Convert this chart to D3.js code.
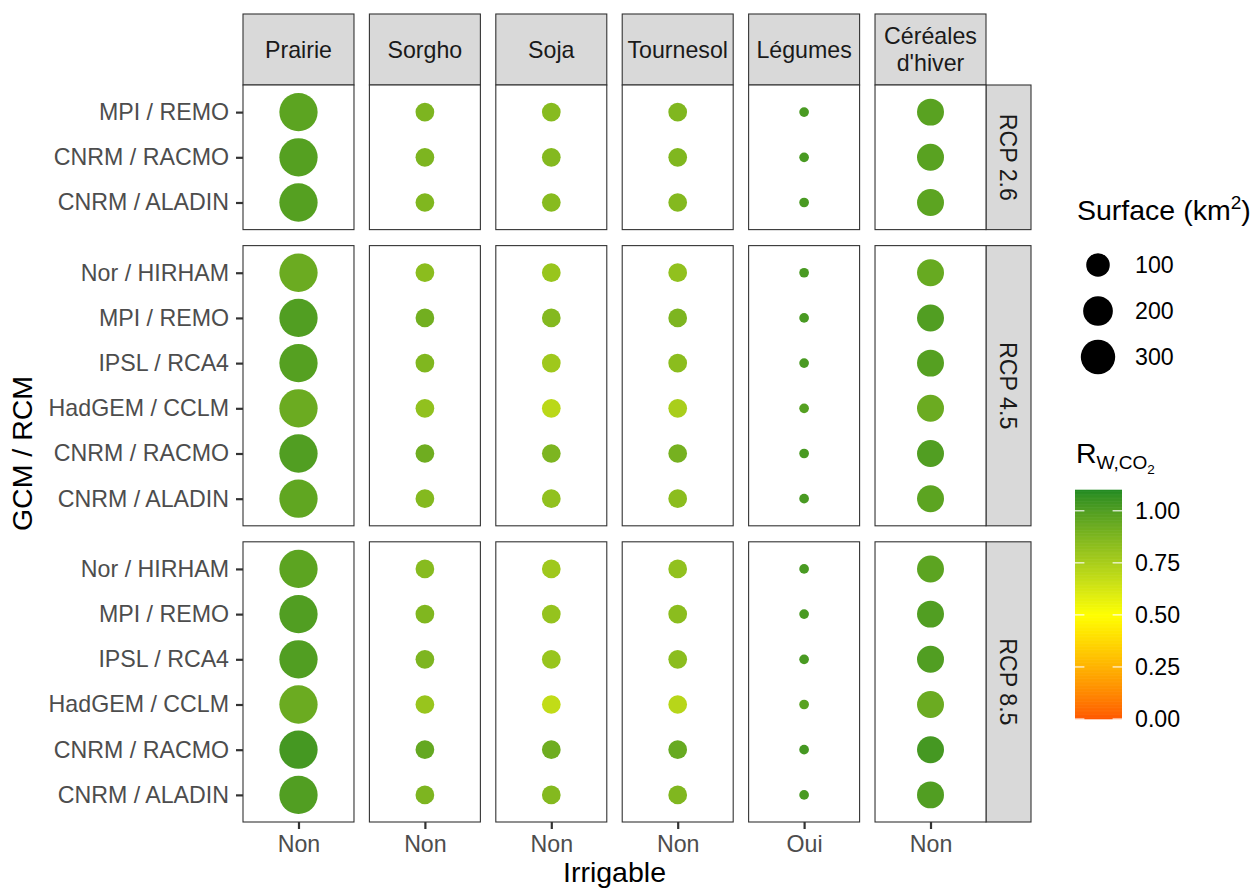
<!DOCTYPE html>
<html><head><meta charset="utf-8">
<script src="https://cdn.jsdelivr.net/npm/d3@7"></script>
<style>body{margin:0;background:#fff}svg{display:block;font-family:"Liberation Sans",Arial,sans-serif}</style>
</head><body><svg id="c" width="1255" height="890"></svg>
<script>
// ---------- data ----------
const crops = ["Prairie","Sorgho","Soja","Tournesol","Légumes","Céréales\nd'hiver"];
const irrigable = ["Non","Non","Non","Non","Oui","Non"];
const surface = [400, 47, 47, 47, 8, 151];
const scenarios = ["RCP 2.6","RCP 4.5","RCP 8.5"];
const models26 = ["MPI / REMO","CNRM / RACMO","CNRM / ALADIN"];
const models45 = ["Nor / HIRHAM","MPI / REMO","IPSL / RCA4","HadGEM / CCLM","CNRM / RACMO","CNRM / ALADIN"];
const models85 = ["Nor / HIRHAM","MPI / REMO","IPSL / RCA4","HadGEM / CCLM","CNRM / RACMO","CNRM / ALADIN"];
// R_W,CO2 values: [crop][model] in display order (top to bottom)
const r26 = [
  [0.97,0.99,0.99],
  [0.88,0.88,0.87],
  [0.85,0.86,0.85],
  [0.87,0.87,0.86],
  [1.02,1.02,1.02],
  [0.98,0.98,0.97]
];
const r45 = [
  [0.93,1.00,0.99,0.93,1.00,0.96],
  [0.84,0.91,0.87,0.82,0.92,0.86],
  [0.80,0.86,0.78,0.70,0.88,0.82],
  [0.82,0.88,0.84,0.75,0.90,0.84],
  [1.02,1.02,1.02,0.99,1.02,1.02],
  [0.94,1.00,0.99,0.93,1.00,0.97]
];
const r85 = [
  [0.97,1.00,1.00,0.93,1.03,1.00],
  [0.85,0.87,0.88,0.80,0.95,0.88],
  [0.78,0.81,0.80,0.68,0.92,0.86],
  [0.82,0.84,0.84,0.71,0.94,0.87],
  [1.02,1.02,1.02,0.98,1.03,1.02],
  [0.97,1.00,1.00,0.93,1.03,1.00]
];
const sizeBreaks = [100, 200, 300];
const colorBreaks = [0, 0.25, 0.5, 0.75, 1.0];
const colorLimits = [0, 1.1];

const rowModels = [models26, models45, models85];
const rowValues = [r26, r45, r85];

// ---------- layout ----------
const svg = d3.select("#c");
const L = 243, R = 986, T = 85, B = 822, gapY = 16;
const stripTop = 14, stripRightW = 45;
const smallFont = 23.2, titleFont = 28.5;

const xBand = d3.scaleBand().domain(crops).range([L, R]).paddingInner(0.122).paddingOuter(0);
const units = rowModels.map(m => m.length + 0.2);
const unitPx = (B - T - gapY * (rowModels.length - 1)) / d3.sum(units);
let yStart = T;
const rows = rowModels.map((m, i) => {
  const h = units[i] * unitPx;
  const r = {top: yStart, bottom: yStart + h, models: m};
  r.y = d3.scalePoint().domain(m).range([r.top, r.bottom]).padding(0.6);
  yStart += h + gapY;
  return r;
});

const color = d3.scaleLinear().domain([-0.1, 0.5, 1.1]).range(["red","yellow","forestgreen"]).interpolate(d3.interpolateLab).clamp(true);
const sizeT = d3.scaleLinear().domain([8, 400]).range([0, 1]);
const diam = d3.scaleLinear().domain([0, 1]).range([9.7, 38.3]);
const radius = v => diam(Math.sqrt(Math.max(0, sizeT(v)))) / 2;

const border = "#333333";

// column strips
crops.forEach(c => {
  const x0 = xBand(c), w = xBand.bandwidth();
  svg.append("rect").attr("x", x0).attr("y", stripTop).attr("width", w).attr("height", T - stripTop)
    .attr("fill", "#d9d9d9").attr("stroke", border).attr("stroke-width", 1.1);
  const lines = c.split("\n");
  const t = svg.append("text").attr("x", x0 + w / 2).attr("text-anchor", "middle")
    .attr("font-size", smallFont).attr("fill", "#1a1a1a");
  const cy = (stripTop + T) / 2;
  lines.forEach((ln, k) => {
    t.append("tspan").attr("x", x0 + w / 2)
      .attr("y", cy + (k - (lines.length - 1) / 2) * 27).attr("dy", "0.35em").text(ln);
  });
});

rows.forEach((row, ri) => {
  // right strip
  svg.append("rect").attr("x", R).attr("y", row.top).attr("width", stripRightW).attr("height", row.bottom - row.top)
    .attr("fill", "#d9d9d9").attr("stroke", border).attr("stroke-width", 1.1);
  const sx = R + stripRightW / 2, sy = (row.top + row.bottom) / 2;
  svg.append("text").attr("transform", `translate(${sx},${sy}) rotate(90)`).attr("text-anchor", "middle")
    .attr("dy", "0.35em").attr("font-size", smallFont).attr("fill", "#1a1a1a").text(scenarios[ri]);

  crops.forEach((c, ci) => {
    const x0 = xBand(c), w = xBand.bandwidth();
    svg.append("rect").attr("x", x0).attr("y", row.top).attr("width", w).attr("height", row.bottom - row.top)
      .attr("fill", "#fff");
    const xs = d3.scalePoint().domain([irrigable[ci]]).range([x0, x0 + w]).padding(0.5);
    const data = row.models.map((m, mi) => ({m, v: rowValues[ri][ci][mi]}));
    svg.append("g").selectAll("circle").data(data).join("circle")
      .attr("cx", xs(irrigable[ci])).attr("cy", d => row.y(d.m))
      .attr("r", radius(surface[ci])).attr("fill", d => color(d.v));
    svg.append("rect").attr("x", x0).attr("y", row.top).attr("width", w).attr("height", row.bottom - row.top)
      .attr("fill", "none").attr("stroke", border).attr("stroke-width", 1.1);
    // x axis on last row
    if (ri === rows.length - 1) {
      const ax = svg.append("g").attr("transform", `translate(0,${row.bottom})`)
        .call(d3.axisBottom(xs).tickSizeOuter(0).tickSizeInner(7).tickPadding(7));
      ax.select(".domain").remove();
      ax.selectAll(".tick line").attr("stroke", border).attr("stroke-width", 2.2);
      ax.selectAll(".tick text").attr("font-size", smallFont).attr("fill", "#4d4d4d")
        .attr("font-family", "Liberation Sans, Arial, sans-serif");
    }
  });
  // y axis
  const ay = svg.append("g").attr("transform", `translate(${L},0)`)
    .call(d3.axisLeft(row.y).tickSizeOuter(0).tickSizeInner(7).tickPadding(7));
  ay.select(".domain").remove();
  ay.selectAll(".tick line").attr("stroke", border).attr("stroke-width", 2.2);
  ay.selectAll(".tick text").attr("font-size", smallFont).attr("fill", "#4d4d4d")
    .attr("font-family", "Liberation Sans, Arial, sans-serif");
});

// axis titles
svg.append("text").attr("x", (L + R) / 2).attr("y", 882).attr("text-anchor", "middle")
  .attr("font-size", titleFont).attr("fill", "#000").text("Irrigable");
svg.append("text").attr("transform", `translate(22,${(T + B) / 2}) rotate(-90)`).attr("text-anchor", "middle")
  .attr("dy", "0.35em").attr("font-size", titleFont).attr("fill", "#000").text("GCM / RCM");

// size legend
const lg = svg.append("g");
const st = lg.append("text").attr("x", 1077).attr("y", 220).attr("font-size", titleFont).attr("fill", "#000");
st.append("tspan").text("Surface (km");
st.append("tspan").attr("font-size", 19).attr("dy", -11).text("2");
st.append("tspan").attr("dy", 11).text(")");
const legY = d3.scalePoint().domain(sizeBreaks).range([265, 357]);
sizeBreaks.forEach(b => {
  lg.append("circle").attr("cx", 1098).attr("cy", legY(b)).attr("r", radius(b)).attr("fill", "#000");
  lg.append("text").attr("x", 1135).attr("y", legY(b)).attr("dy", "0.35em").attr("font-size", smallFont)
    .attr("fill", "#000").text(b);
});

// color legend
const ct = lg.append("text").attr("x", 1076).attr("y", 463).attr("font-size", titleFont).attr("fill", "#000");
ct.append("tspan").text("R");
ct.append("tspan").attr("font-size", 19).attr("dy", 6).text("W,CO");
ct.append("tspan").attr("font-size", 13.5).attr("dy", 5).text("2");
const cbX = 1075, cbW = 47, cbTop = 490, cbBot = 719;
const cy = d3.scaleLinear().domain(colorLimits).range([cbBot, cbTop]);
const bins = d3.range(0, 300).map(i => colorLimits[0] + (colorLimits[1] - colorLimits[0]) * i / 300);
const binH = (cbBot - cbTop) / 300;
lg.append("g").selectAll("rect").data(bins).join("rect")
  .attr("x", cbX).attr("width", cbW).attr("y", d => cy(d) - binH - 0.3).attr("height", binH + 0.6)
  .attr("fill", d => color(d + (colorLimits[1] - colorLimits[0]) / 600));
colorBreaks.forEach(b => {
  lg.append("line").attr("x1", cbX).attr("x2", cbX + 9.4).attr("y1", cy(b)).attr("y2", cy(b))
    .attr("stroke", "#fff").attr("stroke-width", 1.1);
  lg.append("line").attr("x1", cbX + cbW - 9.4).attr("x2", cbX + cbW).attr("y1", cy(b)).attr("y2", cy(b))
    .attr("stroke", "#fff").attr("stroke-width", 1.1);
  lg.append("text").attr("x", 1135).attr("y", cy(b)).attr("dy", "0.35em").attr("font-size", smallFont)
    .attr("fill", "#000").text(d3.format(".2f")(b));
});
</script></body></html>
